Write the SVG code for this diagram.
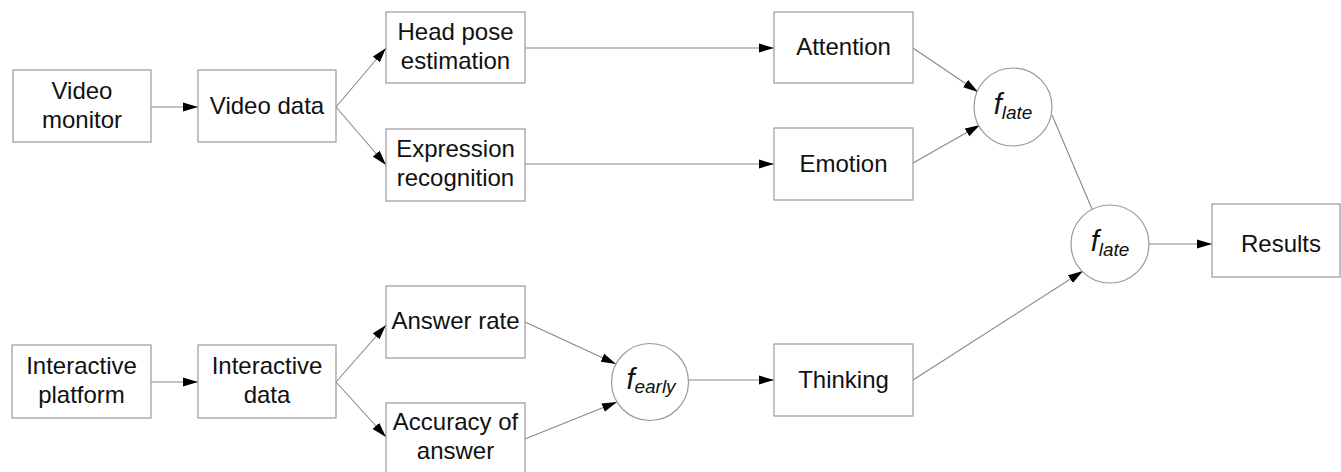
<svg xmlns="http://www.w3.org/2000/svg" width="1341" height="472" viewBox="0 0 1341 472">
<style>
.box{fill:#fff;stroke:#999;stroke-width:1.2}
.circ{fill:#fff;stroke:#999;stroke-width:1.2}
.t{font-family:"Liberation Sans",Arial,sans-serif;font-size:24px;fill:#111;text-anchor:middle}
.fi{font-family:"Liberation Sans",Arial,sans-serif;fill:#111;text-anchor:middle;font-style:italic}
.c{stroke:#888;stroke-width:1.1;fill:none}
.a{marker-end:url(#arr)}
</style>
<defs>
<marker id="arr" markerUnits="userSpaceOnUse" markerWidth="15" markerHeight="10" refX="15" refY="5" orient="auto" viewBox="0 0 15 10">
<path d="M0,0.5 L15,5 L0,9.5 z" fill="#000"/>
</marker>
</defs>
<rect width="1341" height="472" fill="#fff"/>
<g id="connectors">
<line class="c a" x1="151" y1="107" x2="198" y2="107"/>
<line class="c a" x1="336" y1="107" x2="386" y2="48"/>
<line class="c a" x1="336" y1="107" x2="386" y2="165"/>
<line class="c a" x1="525" y1="48" x2="774" y2="48"/>
<line class="c a" x1="525" y1="164" x2="774" y2="164"/>
<line class="c a" x1="913" y1="48" x2="978" y2="92"/>
<line class="c a" x1="913" y1="163" x2="980" y2="125"/>
<line class="c" x1="1052" y1="115" x2="1092" y2="209"/>
<line class="c a" x1="1149" y1="244" x2="1212" y2="244"/>
<line class="c a" x1="913" y1="380" x2="1083" y2="271"/>
<line class="c a" x1="151" y1="382" x2="198" y2="382"/>
<line class="c a" x1="336" y1="382" x2="386" y2="325"/>
<line class="c a" x1="336" y1="382" x2="386" y2="437"/>
<line class="c a" x1="525" y1="322" x2="616" y2="364"/>
<line class="c a" x1="525" y1="439" x2="617" y2="402"/>
<line class="c a" x1="689" y1="380" x2="774" y2="380"/>
</g>
<g id="video-monitor"><rect class="box" x="13" y="70" width="138" height="72"/><text class="t" x="82" y="99">Video</text><text class="t" x="82" y="128">monitor</text></g>
<g id="video-data"><rect class="box" x="198" y="70" width="138" height="72"/><text class="t" x="267" y="114">Video data</text></g>
<g id="head-pose"><rect class="box" x="386" y="12" width="139" height="71"/><text class="t" x="455.5" y="40">Head pose</text><text class="t" x="455.5" y="69">estimation</text></g>
<g id="expression"><rect class="box" x="386" y="129" width="139" height="72"/><text class="t" x="455.5" y="157">Expression</text><text class="t" x="455.5" y="186">recognition</text></g>
<g id="attention"><rect class="box" x="774" y="12" width="139" height="71"/><text class="t" x="843.5" y="55">Attention</text></g>
<g id="emotion"><rect class="box" x="774" y="128" width="139" height="72"/><text class="t" x="843.5" y="172">Emotion</text></g>
<g id="flate1"><circle class="circ" cx="1013" cy="107" r="39"/><text class="fi" x="1013" y="114"><tspan font-size="29">f</tspan><tspan font-size="19" dy="5">late</tspan></text></g>
<g id="flate2"><circle class="circ" cx="1110" cy="244" r="39"/><text class="fi" x="1110" y="251"><tspan font-size="29">f</tspan><tspan font-size="19" dy="5">late</tspan></text></g>
<g id="results"><rect class="box" x="1212" y="204" width="128" height="73"/><text class="t" x="1281" y="252">Results</text></g>
<g id="interactive-platform"><rect class="box" x="12" y="345" width="139" height="73"/><text class="t" x="81.5" y="374">Interactive</text><text class="t" x="81.5" y="403">platform</text></g>
<g id="interactive-data"><rect class="box" x="198" y="345" width="138" height="73"/><text class="t" x="267" y="374">Interactive</text><text class="t" x="267" y="403">data</text></g>
<g id="answer-rate"><rect class="box" x="386" y="286" width="139" height="72"/><text class="t" x="455.5" y="329">Answer rate</text></g>
<g id="accuracy"><rect class="box" x="386" y="403" width="139" height="72"/><text class="t" x="455.5" y="430">Accuracy of</text><text class="t" x="455.5" y="459">answer</text></g>
<g id="fearly"><circle class="circ" cx="650" cy="382" r="38.5"/><text class="fi" x="651" y="389"><tspan font-size="29">f</tspan><tspan font-size="19" dy="4">early</tspan></text></g>
<g id="thinking"><rect class="box" x="774" y="344" width="139" height="72"/><text class="t" x="843.5" y="388">Thinking</text></g>
</svg>
